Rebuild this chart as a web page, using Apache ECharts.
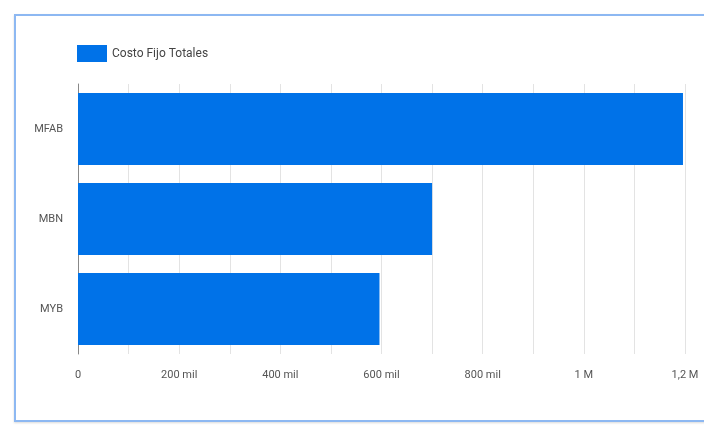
<!DOCTYPE html>
<html><head><meta charset="utf-8">
<script src="https://cdn.jsdelivr.net/npm/echarts@6/dist/echarts.min.js"></script>
<style>
html,body{margin:0;padding:0;width:704px;height:426px;overflow:hidden;background:#fff}
#frame{position:absolute;left:14px;top:14px;width:720px;height:408px;border:2px solid #8db8f2;box-sizing:border-box;box-shadow:0 1px 2px rgba(0,0,0,0.15)}
#c{position:absolute;left:0;top:0;width:704px;height:426px}
</style></head>
<body>
<div id="frame"></div>
<div id="c"></div>
<script>
const categories = ['MFAB', 'MBN', 'MYB'];
const seriesName = 'Costo Fijo Totales';
const values = [1196000, 700000, 596000];
const tickValues = [0, 200000, 400000, 600000, 800000, 1000000, 1200000];
const tickLabels = ['0', '200 mil', '400 mil', '600 mil', '800 mil', '1 M', '1,2 M'];

const chart = echarts.init(document.getElementById('c'), null, {renderer: 'canvas'});
chart.setOption({
  animation: false,
  textStyle: {fontFamily: 'Roboto'},
  legend: {
    left: 77, top: 45, padding: 0,
    icon: 'rect',
    itemWidth: 30, itemHeight: 17, itemGap: 6,
    textStyle: {fontSize: 12, color: '#444', fontFamily: 'Roboto'},
    data: [seriesName]
  },
  grid: {left: 78, right: 19, top: 84, bottom: 72},
  xAxis: {
    type: 'value', min: 0, max: 1200000, interval: 100000,
    axisLine: {show: false},
    axisTick: {show: false},
    splitLine: {show: true, lineStyle: {color: '#e3e3e3', width: 1}},
    axisLabel: {
      color: '#555', fontSize: 11, margin: 16,
      formatter: function (v) {
        const i = tickValues.indexOf(v);
        return i >= 0 ? tickLabels[i] : '';
      }
    }
  },
  yAxis: {
    type: 'category', data: categories, inverse: true,
    axisLine: {show: true, lineStyle: {color: '#888', width: 1}},
    axisTick: {show: false},
    axisLabel: {color: '#555', fontSize: 11, margin: 15}
  },
  series: [{
    name: seriesName, type: 'bar', data: values,
    barCategoryGap: '20%',
    itemStyle: {color: '#0072e8'}
  }]
});
</script>
</body></html>
